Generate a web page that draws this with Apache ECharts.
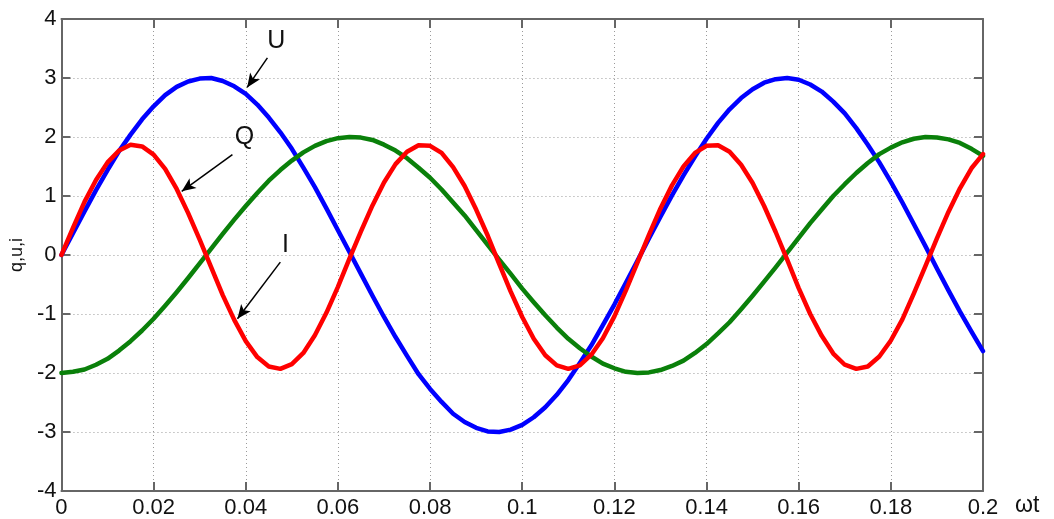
<!DOCTYPE html>
<html>
<head>
<meta charset="utf-8">
<script src="https://cdn.jsdelivr.net/npm/echarts@6/dist/echarts.min.js"></script>
<style>
  html, body { margin: 0; padding: 0; background: #fff; }
  #chart { width: 1054px; height: 519px; }
</style>
</head>
<body>
<div id="chart"></div>
<script>
// Sample instants along the ωt axis, step 0.0025
const t = [
  0, 0.0025, 0.005, 0.0075, 0.01, 0.0125, 0.015, 0.0175, 0.02, 0.0225,
  0.025, 0.0275, 0.03, 0.0325, 0.035, 0.0375, 0.04, 0.0425, 0.045, 0.0475,
  0.05, 0.0525, 0.055, 0.0575, 0.06, 0.0625, 0.065, 0.0675, 0.07, 0.0725,
  0.075, 0.0775, 0.08, 0.0825, 0.085, 0.0875, 0.09, 0.0925, 0.095, 0.0975,
  0.1, 0.1025, 0.105, 0.1075, 0.11, 0.1125, 0.115, 0.1175, 0.12, 0.1225,
  0.125, 0.1275, 0.13, 0.1325, 0.135, 0.1375, 0.14, 0.1425, 0.145, 0.1475,
  0.15, 0.1525, 0.155, 0.1575, 0.16, 0.1625, 0.165, 0.1675, 0.17, 0.1725,
  0.175, 0.1775, 0.18, 0.1825, 0.185, 0.1875, 0.19, 0.1925, 0.195, 0.1975, 0.2
];

// Voltage U (blue)
const uValues = [
  0, 0.37, 0.74, 1.10, 1.44, 1.76, 2.04, 2.30, 2.52, 2.71,
  2.85, 2.94, 2.99, 3.00, 2.95, 2.86, 2.73, 2.55, 2.33, 2.08,
  1.80, 1.48, 1.15, 0.79, 0.42, 0.05, -0.32, -0.69, -1.05, -1.39,
  -1.71, -2.02, -2.27, -2.49, -2.69, -2.83, -2.93, -2.99, -3.00, -2.96,
  -2.88, -2.75, -2.58, -2.37, -2.12, -1.83, -1.53, -1.19, -0.84, -0.47,
  -0.10, 0.28, 0.65, 1.01, 1.35, 1.67, 1.97, 2.24, 2.47, 2.66,
  2.81, 2.92, 2.98, 3.00, 2.97, 2.89, 2.77, 2.60, 2.40, 2.15,
  1.87, 1.57, 1.24, 0.89, 0.52, 0.15, -0.23, -0.60, -0.96, -1.30, -1.63
];

// Charge Q (green)
const qValues = [
  -2.00, -1.98, -1.94, -1.86, -1.76, -1.62, -1.46, -1.28, -1.08, -0.86,
  -0.63, -0.39, -0.14, 0.11, 0.36, 0.60, 0.83, 1.05, 1.26, 1.44,
  1.60, 1.74, 1.85, 1.93, 1.98, 2.00, 1.99, 1.95, 1.87, 1.77,
  1.64, 1.48, 1.31, 1.11, 0.89, 0.67, 0.42, 0.17, -0.08, -0.32,
  -0.57, -0.80, -1.02, -1.23, -1.42, -1.58, -1.72, -1.84, -1.92, -1.98,
  -2.00, -1.99, -1.95, -1.88, -1.79, -1.66, -1.51, -1.33, -1.14, -0.92,
  -0.69, -0.45, -0.21, 0.04, 0.29, 0.54, 0.77, 1.00, 1.20, 1.39,
  1.56, 1.71, 1.82, 1.91, 1.97, 2.00, 1.99, 1.96, 1.90, 1.80, 1.68
];

// Current I (red)
const iValues = [
  0, 0.46, 0.90, 1.27, 1.57, 1.77, 1.87, 1.84, 1.70, 1.46,
  1.12, 0.71, 0.26, -0.21, -0.68, -1.10, -1.46, -1.73, -1.89, -1.93,
  -1.85, -1.66, -1.36, -0.98, -0.54, -0.06, 0.40, 0.84, 1.23, 1.54,
  1.75, 1.86, 1.85, 1.73, 1.49, 1.17, 0.77, 0.33, -0.15, -0.62,
  -1.05, -1.42, -1.70, -1.87, -1.93, -1.87, -1.69, -1.41, -1.04, -0.60,
  -0.13, 0.34, 0.79, 1.18, 1.50, 1.73, 1.85, 1.86, 1.75, 1.53,
  1.22, 0.83, 0.39, -0.08, -0.56, -1.00, -1.37, -1.67, -1.86, -1.93,
  -1.89, -1.72, -1.45, -1.09, -0.65, -0.19, 0.28, 0.73, 1.13, 1.47, 1.71
];

// Tick labels
const xTickLabels = ['0', '0.02', '0.04', '0.06', '0.08', '0.1', '0.12', '0.14', '0.16', '0.18', '0.2'];
const yTickLabels = ['-4', '-3', '-2', '-1', '0', '1', '2', '3', '4'];

const pairs = (xs, ys) => xs.map((x, k) => [x, ys[k]]);

// Callout labels and arrows, in axis units
const callouts = [
  { text: 'U', label: [0.0466, 3.62], from: [0.0447, 3.34], to: [0.0403, 2.84] },
  { text: 'Q', label: [0.0397, 2.0], from: [0.0371, 1.70], to: [0.0261, 1.08] },
  { text: 'I', label: [0.0486, 0.16], from: [0.0475, -0.12], to: [0.0382, -1.08] }
];

const frameColor = '#666';
const gridColor = '#9a9a9a';
const font = '"Liberation Sans", Arial, sans-serif';

const xLabelFmt = v => {
  const k = Math.round(v / 0.02);
  return xTickLabels[k] !== undefined ? xTickLabels[k] : '';
};
const yLabelFmt = v => {
  const k = Math.round(v) + 4;
  return yTickLabels[k] !== undefined ? yTickLabels[k] : '';
};

const baseX = {
  type: 'value', min: 0, max: 0.2, interval: 0.02,
  axisLine: { show: true, onZero: false, lineStyle: { color: frameColor, width: 2 } },
  axisTick: { show: true, inside: true, length: 9, lineStyle: { color: frameColor, width: 2 } }
};
const baseY = {
  type: 'value', min: -4, max: 4, interval: 1,
  axisLine: { show: true, onZero: false, lineStyle: { color: frameColor, width: 2 } },
  axisTick: { show: true, inside: true, length: 9, lineStyle: { color: frameColor, width: 2 } }
};

const chart = echarts.init(document.getElementById('chart'), null, { renderer: 'canvas' });

chart.setOption({
  animation: false,
  backgroundColor: '#fff',
  grid: { left: 58.6, right: 71, top: 19, bottom: 26, containLabel: false },
  xAxis: [
    Object.assign({}, baseX, {
      position: 'bottom',
      name: 'ωt',
      nameLocation: 'end',
      nameGap: 32,
      nameTextStyle: { color: '#111', fontSize: 23, fontFamily: font, align: 'left', verticalAlign: 'top', padding: [3, 0, 0, 0] },
      axisLabel: { color: '#111', fontSize: 22, fontFamily: font, margin: 6, formatter: xLabelFmt, showMaxLabel: true, showMinLabel: true },
      splitLine: { show: true, lineStyle: { color: gridColor, width: 1, type: [1, 3] } }
    }),
    Object.assign({}, baseX, {
      position: 'top',
      axisLabel: { show: false },
      splitLine: { show: false }
    })
  ],
  yAxis: [
    Object.assign({}, baseY, {
      position: 'left',
      name: 'q,u,i',
      nameLocation: 'middle',
      nameGap: 32,
      nameTextStyle: { color: '#111', fontSize: 18, fontFamily: font },
      axisLabel: { color: '#111', fontSize: 22, fontFamily: font, margin: 5, formatter: yLabelFmt },
      splitLine: { show: true, lineStyle: { color: gridColor, width: 1, type: [1, 3] } }
    }),
    Object.assign({}, baseY, {
      position: 'right',
      axisLabel: { show: false },
      splitLine: { show: false }
    })
  ],
  series: [
    {
      name: 'U', type: 'line', smooth: false, symbol: 'none', data: pairs(t, uValues),
      lineStyle: { color: '#0000ff', width: 4.5, cap: 'round', join: 'round' }, z: 2
    },
    {
      name: 'Q', type: 'line', smooth: false, symbol: 'none', data: pairs(t, qValues),
      lineStyle: { color: '#0a800a', width: 4.5, cap: 'round', join: 'round' }, z: 3
    },
    {
      name: 'I', type: 'line', smooth: false, symbol: 'none', data: pairs(t, iValues),
      lineStyle: { color: '#ff0000', width: 4.5, cap: 'round', join: 'round' }, z: 4
    },
    {
      name: 'callouts', type: 'line', data: [], symbol: 'none', z: 10, silent: true,
      markLine: {
        silent: true,
        symbol: ['none', 'arrow'],
        symbolSize: [9, 14],
        label: { show: false },
        lineStyle: { color: '#000', width: 1.5, type: 'solid' },
        emphasis: { disabled: true },
        data: callouts.map(c => [{ coord: c.from }, { coord: c.to }])
      },
      markPoint: {
        silent: true,
        symbol: 'circle',
        symbolSize: 1,
        itemStyle: { color: 'rgba(0,0,0,0)' },
        label: { show: true, position: 'inside', color: '#111', fontSize: 25, fontFamily: font, formatter: p => p.name },
        data: callouts.map(c => ({ name: c.text, coord: c.label }))
      }
    }
  ]
});
</script>
</body>
</html>
